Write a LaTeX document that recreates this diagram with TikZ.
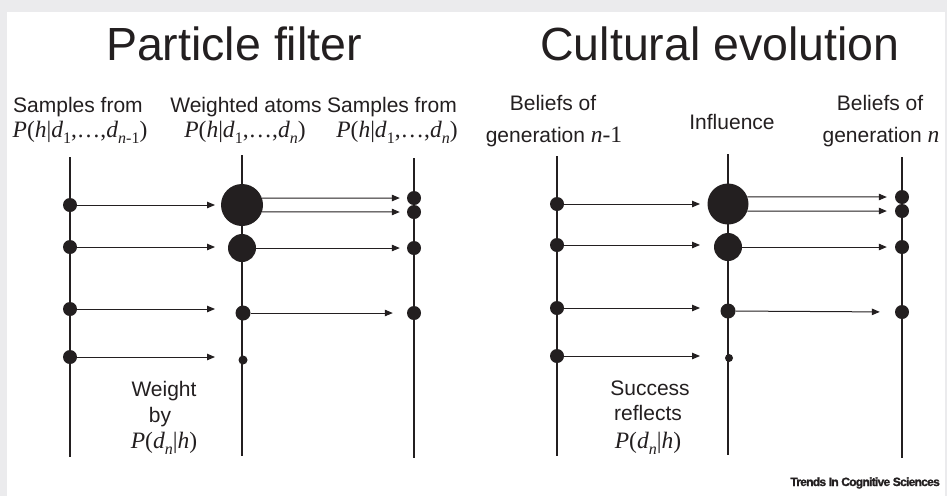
\documentclass[tikz,border=0pt]{standalone}
\usepackage{fontspec}
\setmainfont{Liberation Sans}
\newfontfamily\tms{Liberation Serif}
\usetikzlibrary{arrows.meta}
\definecolor{ink}{HTML}{231F20}
\definecolor{framegrey}{HTML}{EBEBED}
\newcommand{\sbs}[1]{\raisebox{-0.28em}{\fontsize{16}{16}\selectfont #1}}
\newcommand{\fmla}[1]{{\tms\fontsize{23.5}{23.5}\selectfont #1}}
\newcommand{\postA}{\fmla{\textit{P}(\textit{h}|\textit{d}\sbs{1},…,\textit{d}\sbs{\textit{n}-1})}}
\newcommand{\postB}{\fmla{\textit{P}(\textit{h}|\textit{d}\sbs{1},…,\textit{d}\sbs{\textit{n}})}}
\newcommand{\lik}{\fmla{\textit{P}(\textit{d}\sbs{\textit{n}}|\textit{h})}}
\begin{document}
\begin{tikzpicture}[x=1pt,y=-1pt,
  vline/.style={draw=ink, line width=1.3pt},
  blob/.style={circle, fill=ink, inner sep=0pt, minimum size=#1},
  arr/.style={draw=ink, line width=1pt, -{Triangle[length=8pt,width=6.5pt]}},
  lbl/.style={text=ink, anchor=base, inner sep=0pt, font=\fontsize{21}{21}\selectfont},
  ttl/.style={text=ink, anchor=base, inner sep=0pt, font=\fontsize{46.5}{46.5}\selectfont}]
\fill[framegrey] (0,0) rectangle (947,496);
\fill[white] (7,12) rectangle (945,496);
\useasboundingbox (0,0) rectangle (947,496);

% titles
\node[ttl] (t1) at (234,60) {Particle filter};
\node[ttl] (t2) at (720,60) {Cultural evolution};

% ---------- left panel ----------
\node[lbl] (h1) at (78,112) {Samples from};
\node[lbl] (f1) at (80,137) {\postA};
\node[lbl] (h2) at (246,112) {Weighted atoms};
\node[lbl] (f2) at (245,137) {\postB};
\node[lbl] (h3) at (392,112) {Samples from};
\node[lbl] (f3) at (397,137) {\postB};

\coordinate (la) at (70,157);  \coordinate (lb) at (70,457);
\coordinate (ma) at (242,155); \coordinate (mb) at (242,456);
\coordinate (ra) at (414,158); \coordinate (rb) at (414,458);
\draw[vline] (la) -- (lb);
\draw[vline] (ma) -- (mb);
\draw[vline] (ra) -- (rb);

\node[blob=14pt] (a1) at (70,205) {};
\node[blob=14pt] (a2) at (70,247) {};
\node[blob=14pt] (a3) at (70,309) {};
\node[blob=14pt] (a4) at (70,357) {};
\node[blob=42pt] (b1) at (242,205) {};
\node[blob=28pt] (b2) at (242,248) {};
\node[blob=15pt] (b3) at (243,313) {};
\node[blob=9pt]  (b4) at (243,360) {};
\node[blob=14pt] (c1) at (414,198) {};
\node[blob=14pt] (c2) at (414,212) {};
\node[blob=14pt] (c3) at (414,248) {};
\node[blob=14pt] (c4) at (414,313) {};

\coordinate (ta1) at (215,205);
\coordinate (ta2) at (215,247);
\coordinate (ta3) at (215,309);
\coordinate (ta4) at (215,357);
\draw[arr] (a1) -- (ta1);
\draw[arr] (a2) -- (ta2);
\draw[arr] (a3) -- (ta3);
\draw[arr] (a4) -- (ta4);
\draw[arr, shorten >=7pt] (b1.19.5) -- (c1.west);
\draw[arr, shorten >=7pt] (b1.-19.5) -- (c2.west);
\draw[arr, shorten >=7pt] (b2) -- (c3.west);
\draw[arr, shorten >=14pt] (b3) -- (c4.west);

\node[lbl] (w1) at (164,396) {Weight};
\node[lbl] (w2) at (160,422) {by};
\node[lbl] (w3) at (164,448) {\lik};

% ---------- right panel ----------
\node[lbl] (g1) at (553,110) {Beliefs of};
\node[lbl] (g2) at (554,142) {generation \fmla{\textit{n}-1}};
\node[lbl] (g3) at (732,129) {Influence};
\node[lbl] (g4) at (880,110) {Beliefs of};
\node[lbl] (g5) at (881,142) {generation \fmla{\textit{n}}};

\coordinate (pa) at (557,156); \coordinate (pb) at (557,456);
\coordinate (qa) at (728,154); \coordinate (qb) at (728,455);
\coordinate (sa) at (902,157); \coordinate (sb) at (902,458);
\draw[vline] (pa) -- (pb);
\draw[vline] (qa) -- (qb);
\draw[vline] (sa) -- (sb);

\node[blob=14pt] (d1) at (557,204) {};
\node[blob=14pt] (d2) at (557,245) {};
\node[blob=14pt] (d3) at (557,308) {};
\node[blob=14pt] (d4) at (557,356) {};
\node[blob=41pt] (e1) at (728,204) {};
\node[blob=28pt] (e2) at (728,247) {};
\node[blob=15pt] (e3) at (728,311) {};
\node[blob=8pt]  (e4) at (729,358) {};
\node[blob=14pt] (k1) at (902,197) {};
\node[blob=14pt] (k2) at (902,211) {};
\node[blob=14pt] (k3) at (902,247) {};
\node[blob=14pt] (k4) at (902,312) {};

\coordinate (td1) at (700,204);
\coordinate (td2) at (700,245);
\coordinate (td3) at (700,308);
\coordinate (td4) at (700,356);
\draw[arr] (d1) -- (td1);
\draw[arr] (d2) -- (td2);
\draw[arr] (d3) -- (td3);
\draw[arr] (d4) -- (td4);
\draw[arr, shorten >=8pt] (e1.20) -- (k1.west);
\draw[arr, shorten >=8pt] (e1.-20) -- (k2.west);
\draw[arr, shorten >=8pt] (e2) -- (k3.west);
\draw[arr, shorten >=15pt] (e3) -- (k4.west);

\node[lbl] (s1) at (650,395) {Success};
\node[lbl] (s2) at (648,420) {reflects};
\node[lbl] (s3) at (648,448) {\lik};

% credit
\node[text=ink, anchor=base east, inner sep=0pt,
      font=\fontsize{12}{12}\selectfont\bfseries\addfontfeature{LetterSpace=-6,FakeBold=1.5}]
      (cr) at (940,486) {Trends In Cognitive Sciences};
\end{tikzpicture}
\end{document}
